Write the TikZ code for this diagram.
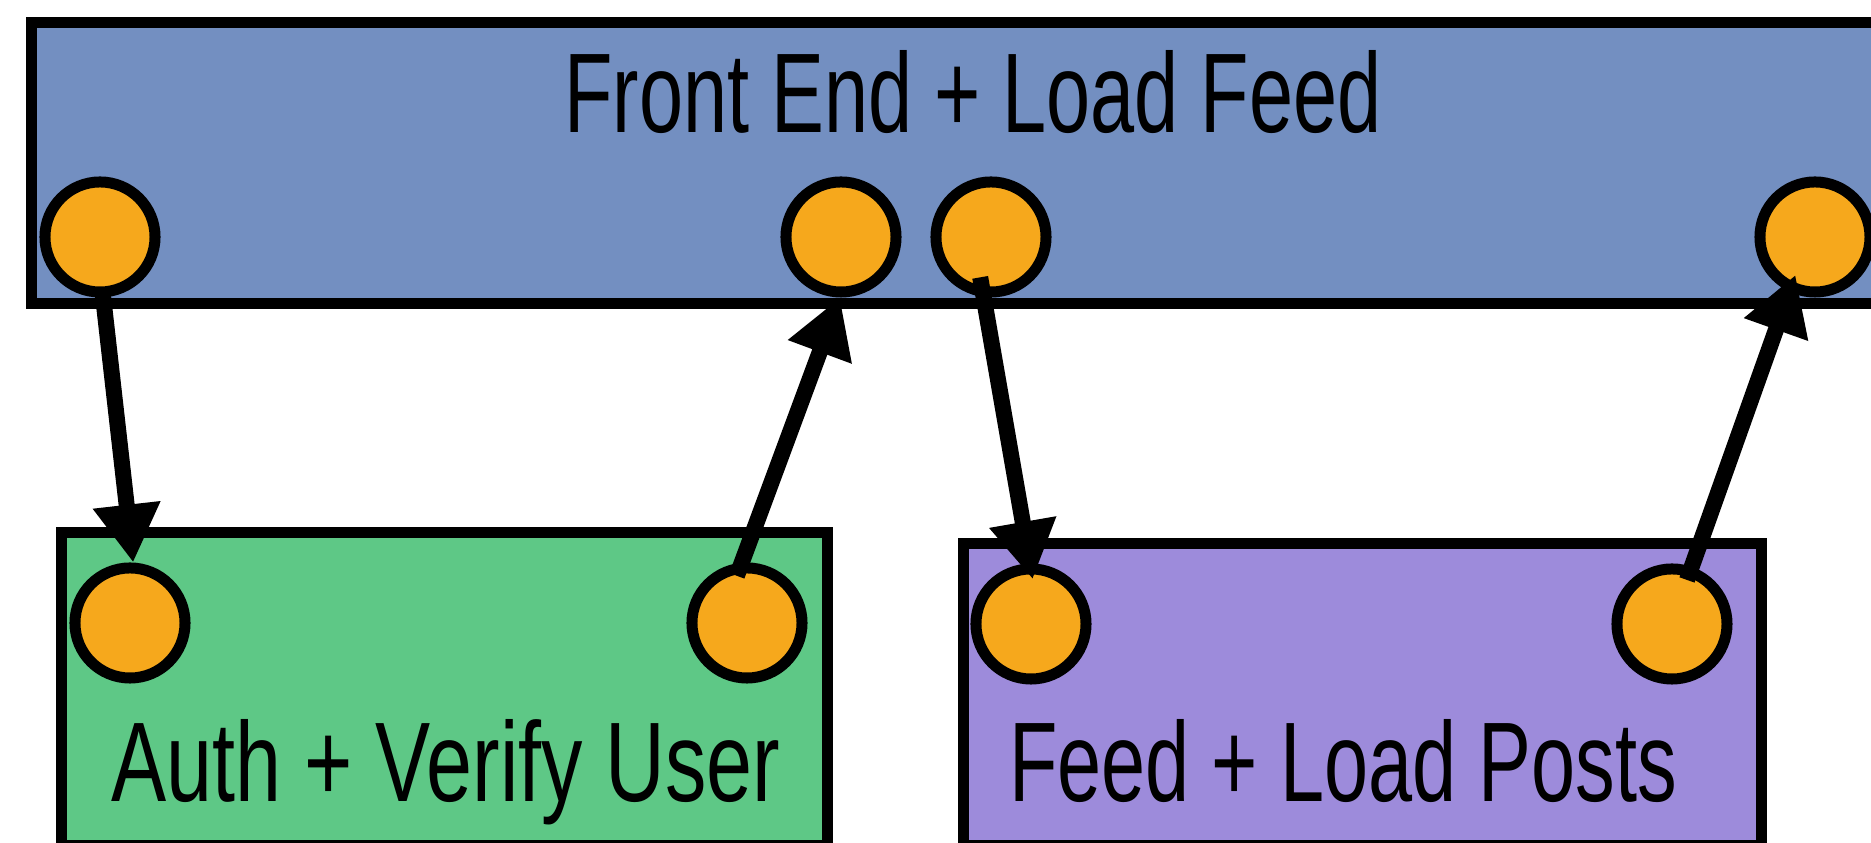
\documentclass[tikz,border=0pt]{standalone}
\usepackage{fontspec}
\setmainfont{Liberation Sans}
\usepackage{xcolor}
\usepackage{graphicx}
\usepackage{tikz}
\usetikzlibrary{shapes,arrows.meta}

\definecolor{frontblue}{RGB}{115,143,193}
\definecolor{authgreen}{RGB}{94,200,134}
\definecolor{feedpurple}{RGB}{157,139,219}
\definecolor{portorange}{RGB}{246,168,28}

\newcommand{\squeeze}[2][0.7]{\scalebox{#1}[1]{#2}}

\begin{document}
\begin{tikzpicture}[x=0.01cm, y=0.01cm,
    service/.style={rectangle, draw, line width=0.11cm, inner sep=0pt},
    port/.style={circle, draw, fill=portorange, line width=0.11cm, minimum size=1.1cm, inner sep=0pt},
    caption/.style={anchor=base, inner sep=0pt, font=\fontsize{32.2}{38}\selectfont},
    call/.style={draw, -{Triangle[length=0.58cm, width=0.64cm]}, line width=0.16cm}]

    \clip (0,0) rectangle (1871,843);

    % Services
    \node [service, fill=frontblue, minimum width=18.68cm, minimum height=2.8cm] (front) at (966,680) {};
    \node [service, fill=authgreen, minimum width=7.65cm, minimum height=3.12cm] (auth) at (444.5,154) {};
    \node [service, fill=feedpurple, minimum width=7.97cm, minimum height=3.01cm] (feed) at (1362.5,148.5) {};

    % Labels
    \node [caption] (frontlbl) at (973,710) {\squeeze{Front End + Load Feed}};
    \node [caption] (authlbl) at (446,41) {\squeeze[0.73]{Auth + Verify User}};
    \node [caption] (feedlbl) at (1343,41) {\squeeze{Feed + Load Posts}};

    % Ports
    \node [port] (f1) at (100,606) {};
    \node [port] (f2) at (841,606) {};
    \node [port] (f3) at (991,606) {};
    \node [port] (f4) at (1815,606) {};
    \node [port] (g1) at (130,220) {};
    \node [port] (g2) at (747,220) {};
    \node [port] (p1) at (1031,219) {};
    \node [port] (p2) at (1672,219) {};

    % Calls
    \draw [call, shorten <=-0.07cm] (f1.273) -- (g1.87);
    \draw [call, shorten <=-0.14cm] (g2.95) -- (f2.269);
    \draw [call, shorten <=-0.2cm, shorten >=-0.16cm] (f3.263) -- (p1.91);
    \draw [call, shorten <=-0.14cm, shorten >=-0.18cm] (p2.71) -- (f4.245);

\end{tikzpicture}
\end{document}
